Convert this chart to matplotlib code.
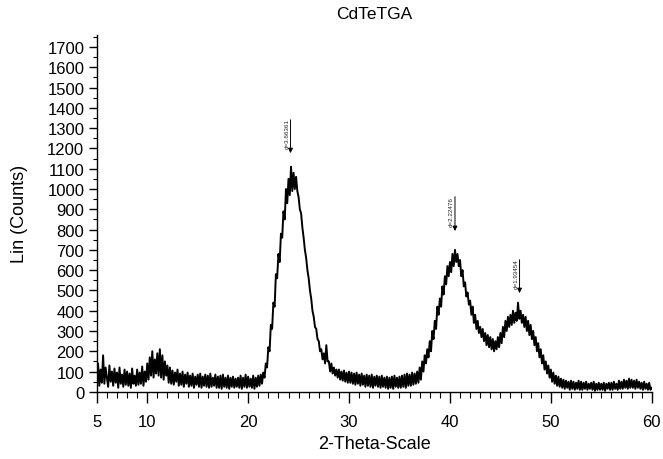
import numpy as np
import matplotlib
matplotlib.use("Agg")
import matplotlib.pyplot as plt
from matplotlib.ticker import MultipleLocator

plt.rcParams['font.family'] = ['Liberation Sans', 'DejaVu Sans']

# 2-theta from 5 to 60 in steps of 0.125 deg, counts
two_theta = np.arange(5.0, 60.0001, 0.125)
counts = [
    60, 140, 30, 110, 45, 180, 40, 120,          # 5
    70, 25, 130, 50, 100, 30, 115, 45,           # 6
    95, 20, 120, 40, 85, 25, 110, 35,            # 7
    100, 30, 90, 20, 115, 40, 80, 30,            # 8
    110, 35, 95, 40, 125, 30, 100, 50,           # 9
    140, 60, 170, 80, 200, 70, 160, 90,          # 10
    190, 80, 210, 70, 180, 60, 150, 80,          # 11
    130, 45, 120, 40, 105, 35, 95, 50,           # 12
    110, 30, 90, 35, 100, 25, 85, 40,            # 13
    95, 25, 80, 30, 90, 20, 75, 35,              # 14
    85, 25, 90, 20, 75, 30, 85, 25,              # 15
    80, 20, 90, 25, 70, 30, 85, 20,              # 16
    75, 20, 80, 15, 85, 25, 70, 20,              # 17
    80, 15, 70, 25, 75, 20, 65, 25,              # 18
    70, 20, 80, 15, 70, 25, 85, 20,              # 19
    75, 25, 65, 20, 80, 15, 70, 25,              # 20
    80, 30, 85, 40, 95, 70, 140, 120,            # 21
    220, 200, 330, 310, 440, 420, 580, 560,      # 22
    680, 640, 780, 760, 890, 850, 1000, 930,     # 23
    1050, 970, 1110, 990, 1080, 1000, 1060, 990, # 24
    960, 900, 880, 810, 760, 700, 660, 600,      # 25
    560, 500, 460, 400, 370, 320, 310, 260,      # 26
    250, 200, 210, 160, 190, 140, 230, 150,      # 27
    150, 100, 140, 90, 120, 80, 110, 70,         # 28
    110, 60, 100, 55, 105, 50, 95, 45,           # 29
    100, 45, 95, 40, 90, 35, 95, 40,             # 30
    85, 30, 90, 35, 80, 25, 85, 30,              # 31
    80, 25, 85, 20, 75, 30, 80, 25,              # 32
    75, 20, 80, 25, 70, 20, 75, 15,              # 33
    70, 20, 75, 15, 80, 25, 70, 20,              # 34
    75, 20, 80, 25, 85, 20, 90, 30,              # 35
    85, 30, 95, 35, 90, 40, 100, 45,             # 36
    120, 60, 150, 100, 180, 140, 210, 170,       # 37
    250, 200, 300, 260, 350, 310, 420, 380,      # 38
    460, 420, 520, 480, 570, 530, 620, 570,      # 39
    640, 590, 680, 620, 700, 640, 680, 620,      # 40
    650, 570, 600, 520, 540, 470, 490, 430,      # 41
    450, 380, 420, 340, 380, 310, 350, 290,      # 42
    320, 270, 310, 250, 290, 230, 280, 220,      # 43
    270, 210, 260, 200, 250, 210, 270, 220,      # 44
    290, 240, 320, 270, 350, 300, 370, 320,      # 45
    380, 330, 400, 340, 390, 350, 440, 360,      # 46
    400, 340, 380, 320, 370, 300, 350, 280,      # 47
    330, 260, 300, 230, 270, 200, 240, 170,      # 48
    210, 140, 180, 110, 150, 90, 130, 70,        # 49
    110, 50, 95, 40, 80, 30, 75, 25,             # 50
    65, 20, 60, 15, 55, 20, 50, 10,              # 51
    55, 15, 50, 10, 45, 15, 55, 10,              # 52
    50, 10, 45, 15, 50, 10, 40, 15,              # 53
    45, 10, 50, 5, 40, 10, 45, 10,               # 54
    40, 10, 45, 5, 40, 15, 45, 10,               # 55
    45, 10, 50, 15, 40, 10, 55, 15,              # 56
    50, 15, 60, 20, 55, 15, 65, 20,              # 57
    60, 20, 55, 15, 60, 20, 50, 15,              # 58
    45, 10, 50, 15, 40, 10, 45, 10,              # 59
    20,                                          # 60
]

# peak labels: position, d-spacing text, arrow top, arrow tip
peak_pos = [24.2, 40.5, 46.9]
peak_text = ['d=3.66361', 'd=2.22476', 'd=1.93454']
arrow_top = [1355, 976, 665]
arrow_tip = [1163, 779, 473]

fig = plt.figure(figsize=(6.63, 4.60), dpi=100)
ax = fig.add_axes([0.146, 0.146, 0.837, 0.776])

ax.plot(two_theta, counts, color='black', lw=1.4)

for x, t, y0, y1 in zip(peak_pos, peak_text, arrow_top, arrow_tip):
    ax.annotate('', xy=(x, y1), xytext=(x, y0),
                arrowprops=dict(arrowstyle='-|>', color='black', lw=0.7,
                                mutation_scale=7))
    ax.text(x - 0.35, (y0 + y1) / 2 + 15, t, rotation=90, fontsize=4.5,
            ha='center', va='center', color='#222222')

ax.set_xlim(5, 60)
ax.set_ylim(0, 1760)
ax.set_xticks([5, 10, 20, 30, 40, 50, 60])
ax.xaxis.set_minor_locator(MultipleLocator(1))
ax.set_yticks(np.arange(0, 1701, 100))
ax.yaxis.set_minor_locator(MultipleLocator(50))

for s in ['top', 'right']:
    ax.spines[s].set_visible(False)
ax.spines['left'].set_linewidth(1.0)
ax.spines['bottom'].set_linewidth(1.0)

ax.tick_params(axis='x', which='major', length=8, width=1, direction='out',
               labelsize=12, pad=8)
ax.tick_params(axis='x', which='minor', length=4, width=0.8, direction='out')
ax.tick_params(axis='y', which='major', length=6, width=1, direction='out',
               labelsize=12, pad=3)
ax.tick_params(axis='y', which='minor', length=3, width=0.8, direction='out')

ax.set_xlabel('2-Theta-Scale', fontsize=13, labelpad=4)
ax.set_ylabel('Lin (Counts)', fontsize=13, labelpad=14)
ax.set_title('CdTeTGA', fontsize=12.5, pad=12)

fig.savefig('out.png', dpi=100)
